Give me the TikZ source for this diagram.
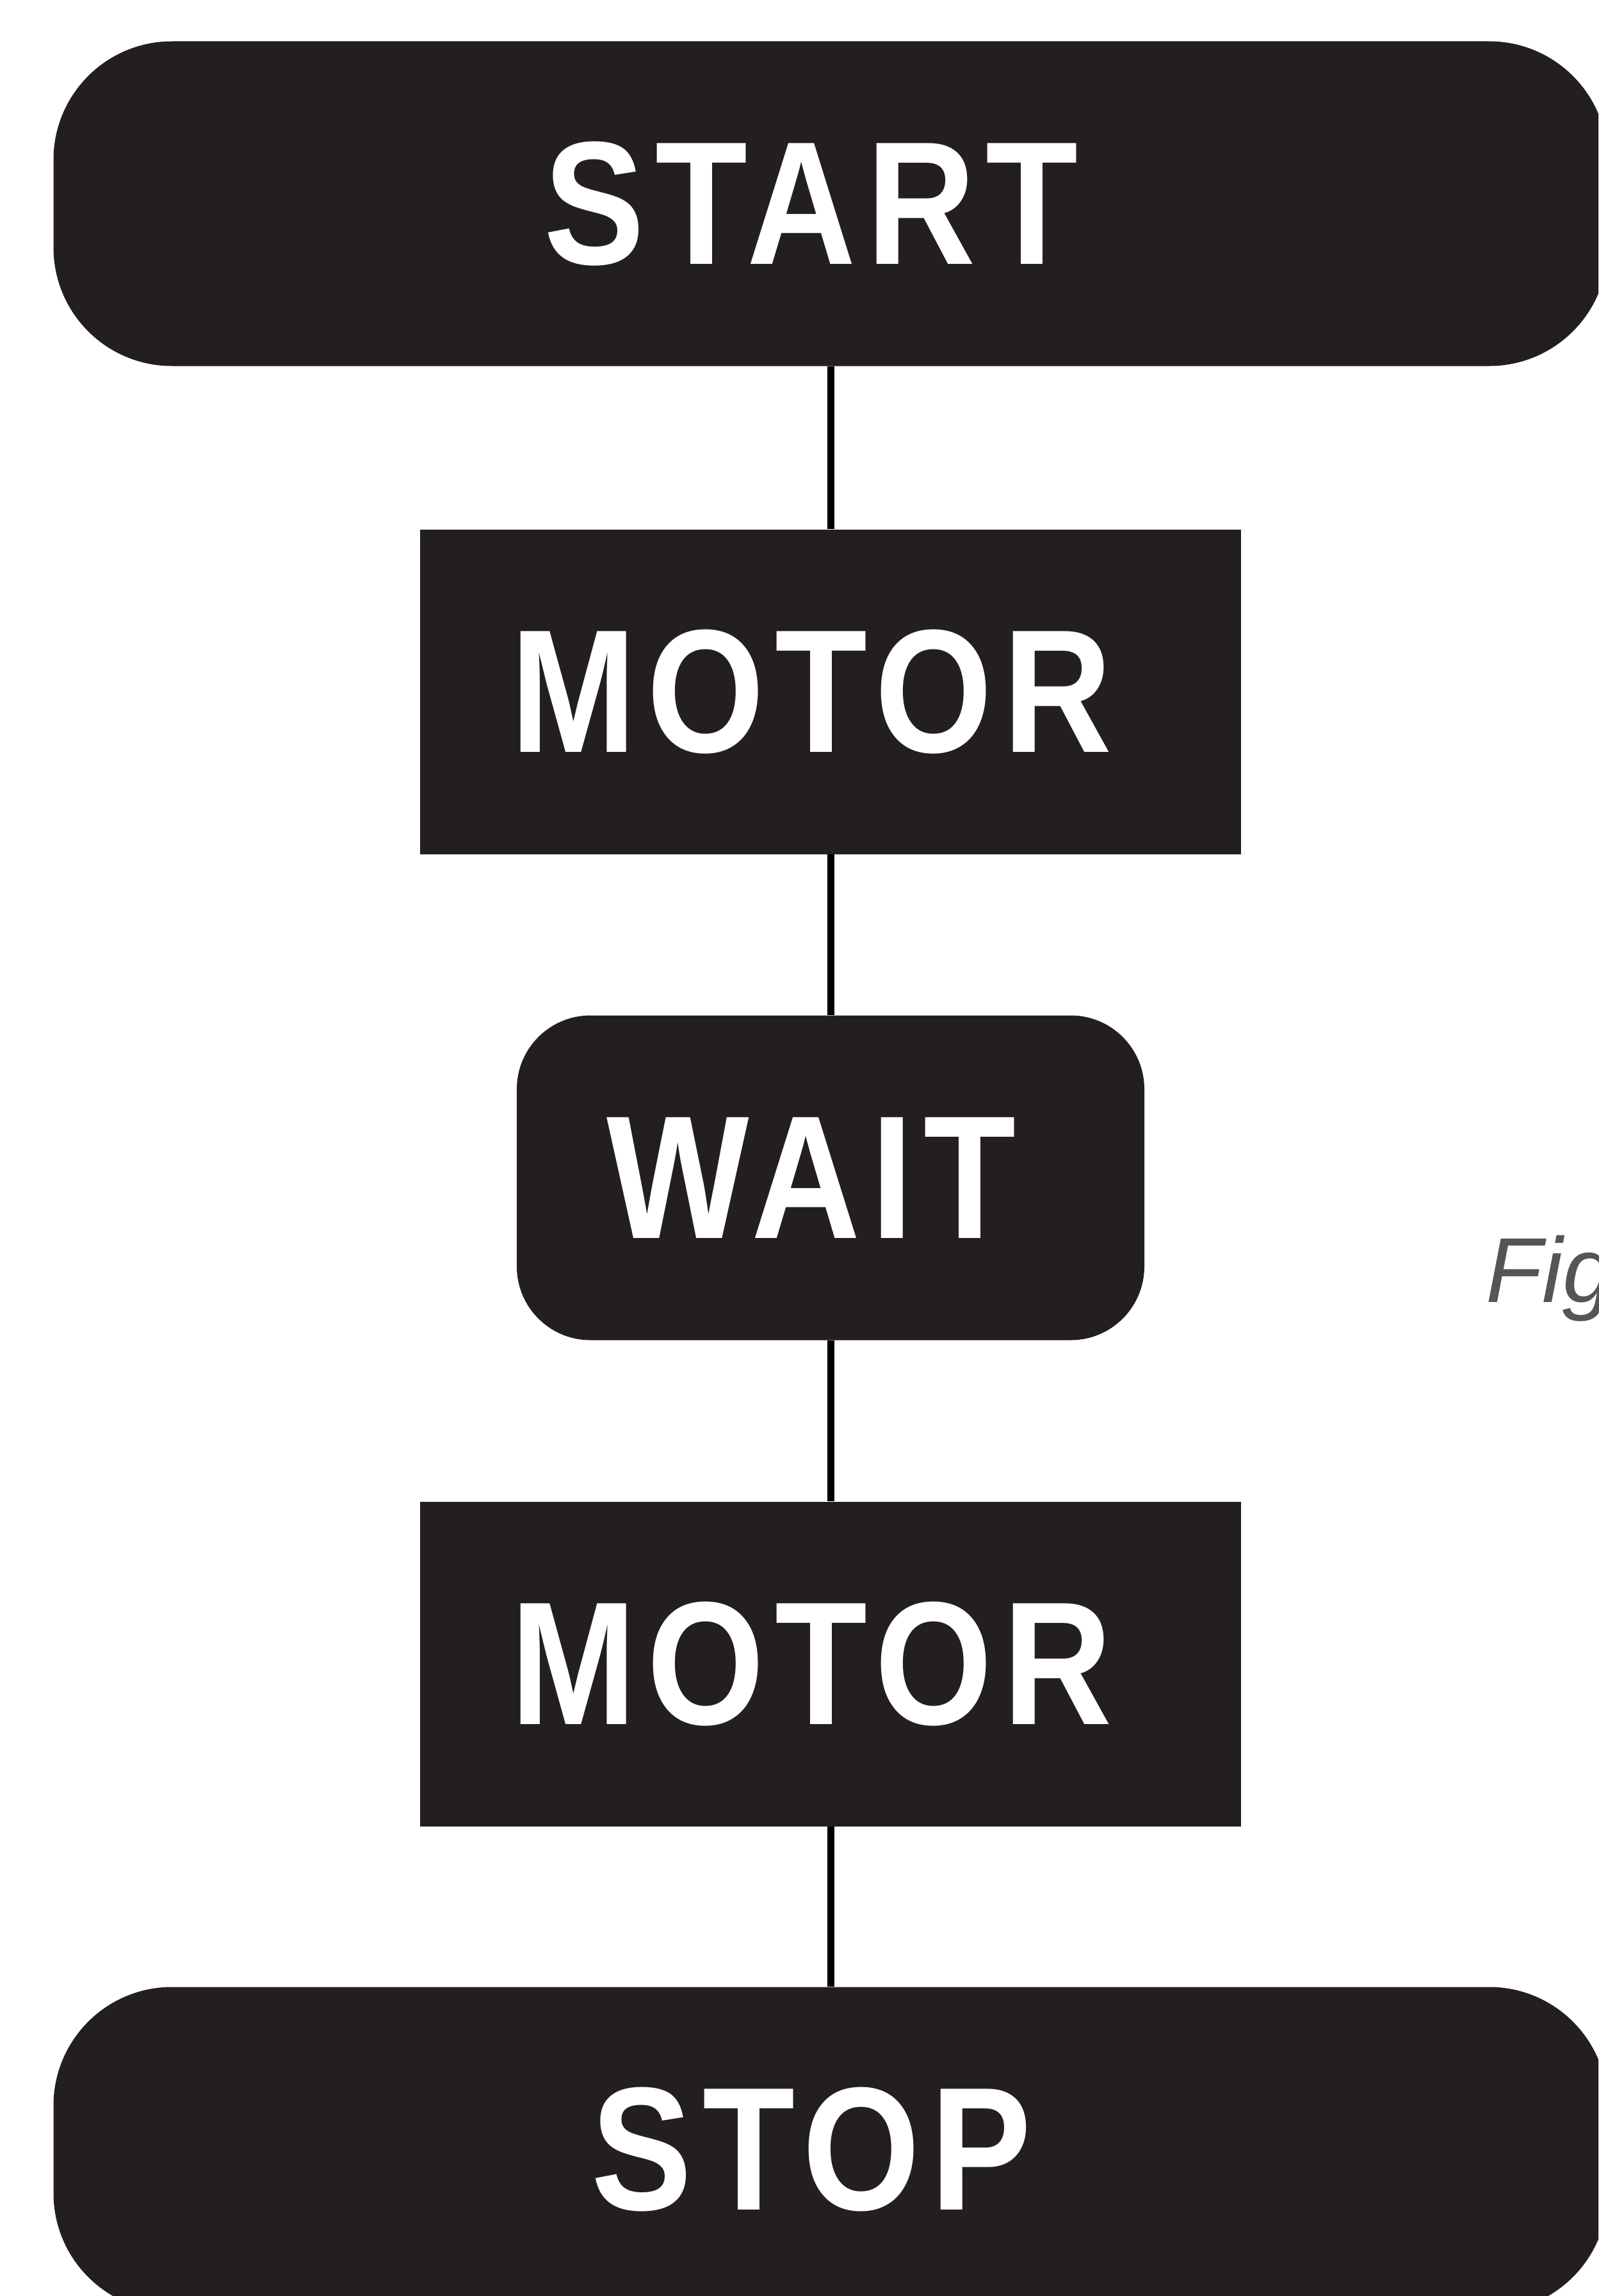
\documentclass[tikz,border=0pt]{standalone}
\usepackage{fontspec}
\setmainfont{Liberation Sans}
\newfontfamily\blockfont[FakeStretch=0.86,LetterSpace=6]{Liberation Sans}
\usetikzlibrary{positioning}
\definecolor{blockblack}{RGB}{35,31,33}
\definecolor{figgray}{RGB}{85,85,85}
\tikzset{
    block/.style={rectangle, fill=blockblack, text=white, minimum height=5.07cm, inner sep=0pt, font=\blockfont\bfseries\fontsize{78}{80}\selectfont, execute at end node={\kern0.6cm}},
    terminal/.style={block, rounded corners=1.85cm, minimum width=24.27cm},
    command/.style={block, minimum width=12.82cm},
    waitbox/.style={block, rounded corners=1.15cm, minimum width=9.8cm},
    link/.style={line width=0.11cm, black},
}
\begin{document}
\begin{tikzpicture}
    \useasboundingbox (0,0) rectangle (24.96,-35.85);
    \clip (0,0) rectangle (24.96,-35.85);

    % start
    \node[terminal] (start) at (12.97,-3.18) {START};

    % first motor
    \node[command] (motorA) at (12.97,-10.80) {MOTOR};
    \draw[link] (start) -- (motorA);

    % wait
    \node[waitbox] (wait) at (12.97,-18.39) {WAIT};
    \draw[link] (motorA) -- (wait);

    % second motor
    \node[command] (motorB) at (12.97,-25.98) {MOTOR};
    \draw[link] (wait) -- (motorB);

    % stop
    \node[terminal] (stop) at (12.97,-33.56) {STOP};
    \draw[link] (motorB) -- (stop);

    % caption, cut off at the edge
    \node[anchor=base west, inner sep=0pt, text=figgray, font=\itshape\fontsize{41}{44}\selectfont] (fig) at (23.2,-20.33) {Fig};
\end{tikzpicture}
\end{document}
